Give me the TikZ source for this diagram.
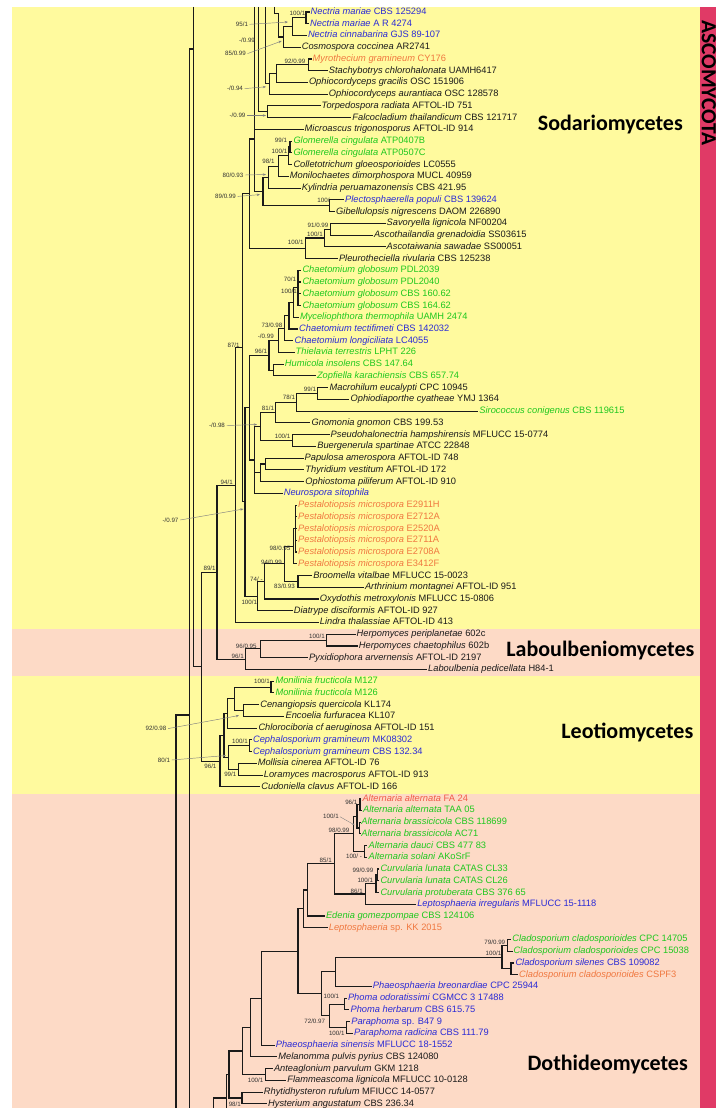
\documentclass[tikz,border=0pt]{standalone}
\usepackage{fontspec}
\setmainfont{Liberation Sans}
\newfontfamily\clsfont{Carlito}
\usetikzlibrary{arrows.meta}
\definecolor{bgy}{HTML}{FFFA9E}
\definecolor{bgp}{HTML}{FDDAC6}
\definecolor{stripc}{HTML}{E03A66}
\definecolor{tb}{HTML}{2B2BD6}
\definecolor{tg}{HTML}{1EC81E}
\definecolor{to}{HTML}{F07840}
\definecolor{tr}{HTML}{F05A48}
\definecolor{tk}{HTML}{1A1A1A}
\definecolor{arrc}{HTML}{808080}
\definecolor{supc}{HTML}{333333}
\newcommand\leafnode[5]{\node[leaf,text=#3] (L#1) at (#2,{12+(#1-1)*11.74}) {\textit{#4} #5};}
\newcommand\tedge[2]{\draw[br] (#1) |- (#2);}
\begin{document}
\begin{tikzpicture}[x=1pt,y=-1pt,
  leaf/.style={anchor=west,inner xsep=1pt,inner ysep=0pt,font=\fontsize{9.3}{11}\selectfont,text height=6.8pt,text depth=1.8pt},
  br/.style={draw=tk,line width=1.1pt},
  sup/.style={inner sep=0pt,font=\fontsize{6.2}{7}\selectfont,text=supc,text height=4.4pt,text depth=0pt},
  arr/.style={draw=arrc,line width=0.45pt,-{Stealth[length=3.2pt,width=2.4pt]}},
  cls/.style={anchor=base east,inner sep=0pt,font=\clsfont\bfseries\fontsize{22}{22}\selectfont,text=black}]
\useasboundingbox (0,0) rectangle (716,1108);
\fill[white] (0,0) rectangle (716,1108);
\fill[bgy] (12,7) rectangle (700,629);
\fill[bgp] (12,629) rectangle (700,676);
\fill[bgy] (12,676) rectangle (700,794);
\fill[bgp] (12,794) rectangle (700,1108);
\fill[stripc] (700,7) rectangle (716,1108);
\node[anchor=base west,rotate=-90,inner sep=0pt,font=\clsfont\bfseries\fontsize{21.5}{22}\selectfont,text=black] (asco) at (701.8,20) {ASCOMYCOTA};
\node[cls] (c1) at (683,130.5) {Sodariomycetes};
\node[cls] (c2) at (694.5,656) {Laboulbeniomycetes};
\node[cls] (c3) at (693.5,738.5) {Leotiomycetes};
\node[cls] (c4) at (688,1070) {Dothideomycetes};
% leaves
\leafnode{1}{309.5}{tb}{Nectria mariae}{CBS 125294}
\leafnode{2}{309}{tb}{Nectria mariae}{A R 4274}
\leafnode{3}{306.8}{tb}{Nectria cinnabarina}{GJS 89-107}
\leafnode{4}{300.6}{tk}{Cosmospora coccinea}{AR2741}
\leafnode{5}{311.5}{to}{Myrothecium gramineum}{CY176}
\leafnode{6}{327.7}{tk}{Stachybotrys chlorohalonata}{UAMH6417}
\leafnode{7}{307.8}{tk}{Ophiocordyceps gracilis}{OSC 151906}
\leafnode{8}{327.7}{tk}{Ophiocordyceps aurantiaca}{OSC 128578}
\leafnode{9}{320.5}{tk}{Torpedospora radiata}{AFTOL-ID 751}
\leafnode{10}{351.2}{tk}{Falcocladium thailandicum}{CBS 121717}
\leafnode{11}{303.5}{tk}{Microascus trigonosporus}{AFTOL-ID 914}
\leafnode{12}{292.3}{tg}{Glomerella cingulata}{ATP0407B}
\leafnode{13}{292.3}{tg}{Glomerella cingulata}{ATP0507C}
\leafnode{14}{292.3}{tk}{Colletotrichum gloeosporioides}{LC0555}
\leafnode{15}{288.7}{tk}{Monilochaetes dimorphospora}{MUCL 40959}
\leafnode{16}{300.6}{tk}{Kylindria peruamazonensis}{CBS 421.95}
\leafnode{17}{344}{tb}{Plectosphaerella populi}{CBS 139624}
\leafnode{18}{335}{tk}{Gibellulopsis nigrescens}{DAOM 226890}
\leafnode{19}{385.5}{tk}{Savoryella lignicola}{NF00204}
\leafnode{20}{372.8}{tk}{Ascothailandia grenadoidia}{SS03615}
\leafnode{21}{385.5}{tk}{Ascotaiwania sawadae}{SS00051}
\leafnode{22}{337.8}{tk}{Pleurotheciella rivularia}{CBS 125238}
\leafnode{23}{301.3}{tg}{Chaetomium globosum}{PDL2039}
\leafnode{24}{301.3}{tg}{Chaetomium globosum}{PDL2040}
\leafnode{25}{301.3}{tg}{Chaetomium globosum}{CBS 160.62}
\leafnode{26}{301.3}{tg}{Chaetomium globosum}{CBS 164.62}
\leafnode{27}{298.8}{tg}{Myceliophthora thermophila}{UAMH 2474}
\leafnode{28}{298}{tb}{Chaetomium tectifimeti}{CBS 142032}
\leafnode{29}{293.4}{tb}{Chaetomium longiciliata}{LC4055}
\leafnode{30}{294.5}{tg}{Thielavia terrestris}{LPHT 226}
\leafnode{31}{283.7}{tg}{Humicola insolens}{CBS 147.64}
\leafnode{32}{315.8}{tg}{Zopfiella karachiensis}{CBS 657.74}
\leafnode{33}{328.4}{tk}{Macrohilum eucalypti}{CPC 10945}
\leafnode{34}{349.4}{tk}{Ophiodiaporthe cyatheae}{YMJ 1364}
\leafnode{35}{478.2}{tg}{Sirococcus conigenus}{CBS 119615}
\leafnode{36}{310.4}{tk}{Gnomonia gnomon}{CBS 199.53}
\leafnode{37}{329.5}{tk}{Pseudohalonectria hampshirensis}{MFLUCC 15-0774}
\leafnode{38}{316.1}{tk}{Buergenerula spartinae}{ATCC 22848}
\leafnode{39}{303.5}{tk}{Papulosa amerospora}{AFTOL-ID 748}
\leafnode{40}{304.2}{tk}{Thyridium vestitum}{AFTOL-ID 172}
\leafnode{41}{304.2}{tk}{Ophiostoma piliferum}{AFTOL-ID 910}
\leafnode{42}{282.6}{tb}{Neurospora sitophila}{}
\leafnode{43}{297}{to}{Pestalotiopsis microspora}{E2911H}
\leafnode{44}{297}{to}{Pestalotiopsis microspora}{E2712A}
\leafnode{45}{297}{to}{Pestalotiopsis microspora}{E2520A}
\leafnode{46}{297}{to}{Pestalotiopsis microspora}{E2711A}
\leafnode{47}{297}{to}{Pestalotiopsis microspora}{E2708A}
\leafnode{48}{297}{to}{Pestalotiopsis microspora}{E3412F}
\leafnode{49}{312.2}{tk}{Broomella vitalbae}{MFLUCC 15-0023}
\leafnode{50}{363.8}{tk}{Arthrinium montagnei}{AFTOL-ID 951}
\leafnode{51}{318.7}{tk}{Oxydothis metroxylonis}{MFLUCC 15-0806}
\leafnode{52}{292.7}{tk}{Diatrype disciformis}{AFTOL-ID 927}
\leafnode{53}{318.7}{tk}{Lindra thalassiae}{AFTOL-ID 413}
\leafnode{54}{355.5}{tk}{Herpomyces periplanetae}{602c}
\leafnode{55}{357.7}{tk}{Herpomyces chaetophilus}{602b}
\leafnode{56}{307.8}{tk}{Pyxidiophora arvernensis}{AFTOL-ID 2197}
\leafnode{57}{427}{tk}{Laboulbenia pedicellata}{H84-1}
\leafnode{58}{274.3}{tg}{Monilinia fructicola}{M127}
\leafnode{59}{274.3}{tg}{Monilinia fructicola}{M126}
\leafnode{60}{259.1}{tk}{Cenangiopsis quercicola}{KL174}
\leafnode{61}{284.4}{tk}{Encoelia furfuracea}{KL107}
\leafnode{62}{257.3}{tk}{Chlorociboria cf aeruginosa}{AFTOL-ID 151}
\leafnode{63}{251.9}{tb}{Cephalosporium gramineum}{MK08302}
\leafnode{64}{251.9}{tb}{Cephalosporium gramineum}{CBS 132.34}
\leafnode{65}{256.6}{tk}{Mollisia cinerea}{AFTOL-ID 76}
\leafnode{66}{262.7}{tk}{Loramyces macrosporus}{AFTOL-ID 913}
\leafnode{67}{260.2}{tk}{Cudoniella clavus}{AFTOL-ID 166}
\leafnode{68}{361.3}{tr}{Alternaria alternata}{FA 24}
\leafnode{69}{362}{tg}{Alternaria alternata}{TAA 05}
\leafnode{70}{360.2}{tg}{Alternaria brassicicola}{CBS 118699}
\leafnode{71}{360.2}{tg}{Alternaria brassicicola}{AC71}
\leafnode{72}{367.4}{tg}{Alternaria dauci}{CBS 477 83}
\leafnode{73}{367.4}{tg}{Alternaria solani}{AKoSrF}
\leafnode{74}{379.3}{tg}{Curvularia lunata}{CATAS CL33}
\leafnode{75}{379.3}{tg}{Curvularia lunata}{CATAS CL26}
\leafnode{76}{379.3}{tg}{Curvularia protuberata}{CBS 376 65}
\leafnode{77}{416.1}{tb}{Leptosphaeria irregularis}{MFLUCC 15-1118}
\leafnode{78}{324.8}{tg}{Edenia gomezpompae}{CBS 124106}
\leafnode{79}{327.7}{to}{Leptosphaeria}{sp. KK 2015}
\leafnode{80}{511.1}{tg}{Cladosporium cladosporioides}{CPC 14705}
\leafnode{81}{512.5}{tg}{Cladosporium cladosporioides}{CPC 15038}
\leafnode{82}{514.3}{tb}{Cladosporium silenes}{CBS 109082}
\leafnode{83}{518}{to}{Cladosporium cladosporioides}{CSPF3}
\leafnode{84}{371.7}{tb}{Phaeosphaeria breonardiae}{CPC 25944}
\leafnode{85}{346.8}{tb}{Phoma odoratissimi}{CGMCC 3 17488}
\leafnode{86}{349.4}{tb}{Phoma herbarum}{CBS 615.75}
\leafnode{87}{350.1}{tb}{Paraphoma}{sp. B47 9}
\leafnode{88}{353}{tb}{Paraphoma radicina}{CBS 111.79}
\leafnode{89}{274.6}{tb}{Phaeosphaeria sinensis}{MFLUCC 18-1552}
\leafnode{90}{277.2}{tk}{Melanomma pulvis pyrius}{CBS 124080}
\leafnode{91}{272.8}{tk}{Anteaglonium parvulum}{GKM 1218}
\leafnode{92}{286.2}{tk}{Flammeascoma lignicola}{MFLUCC 10-0128}
\leafnode{93}{262.7}{tk}{Rhytidhysteron rufulum}{MFIUCC 14-0577}
\leafnode{94}{267}{tk}{Hysterium angustatum}{CBS 236.34}
% internal nodes: Sordariomycetes
\coordinate (n12) at (306,17.9);
\coordinate (n13) at (292.6,26.7);
\coordinate (T1) at (283.6,37.0);
\coordinate (u1) at (274.5,7);
\coordinate (u2) at (278.2,13.3);
\coordinate (n56) at (308.8,64.85);
\coordinate (n57) at (276.4,73.6);
\coordinate (n58) at (269.1,83.9);
\coordinate (u3) at (265.5,7);
\coordinate (n910) at (267.3,111.8);
\coordinate (u4) at (258.3,7);
\coordinate (u5) at (254.2,7);
\coordinate (R) at (254.2,139);
\coordinate (n1213) at (290,147.0);
\coordinate (n1214) at (288.4,155.8);
\coordinate (n98) at (278.2,166.1);
\coordinate (n80) at (268.4,177.1);
\coordinate (n1718) at (329.4,205.7);
\coordinate (n89) at (263,191.4);
\coordinate (n1920) at (330.5,229.2);
\coordinate (n1921) at (324.4,238.0);
\coordinate (n1922) at (305.2,248.3);
\coordinate (P) at (249.2,193.65);
\coordinate (cg) at (298,287.9);
\coordinate (n27) at (293.3,302.6);
\coordinate (n73) at (289,315.8);
\coordinate (nm99) at (284.7,328.3);
\coordinate (nth) at (278.2,340.4);
\coordinate (n3132) at (273.8,370.1);
\coordinate (n96) at (269,355.2);
\coordinate (n3334) at (317.9,393.5);
\coordinate (n78) at (296.2,402.4);
\coordinate (n81) at (275.6,412.6);
\coordinate (n3738) at (292.6,440.5);
\coordinate (nm98) at (260.1,426.6);
\coordinate (n3940) at (265.5,464.0);
\coordinate (n3941) at (260.1,472.8);
\coordinate (ndia) at (254.7,460.0);
\coordinate (S2) at (249.3,407.6);
\coordinate (p1) at (295.2,528.6);
\coordinate (p2) at (293.5,546.2);
\coordinate (n83) at (298,581.4);
\coordinate (n94) at (284.3,563.8);
\coordinate (n74) at (264.8,581.4);
\coordinate (n100x) at (257.6,596.05);
\coordinate (S3) at (245,501.8);
\coordinate (n87) at (242.3,347.7);
\coordinate (S4) at (235.7,485.1);
\coordinate (nh) at (326.2,640.1);
\coordinate (n9695) at (260.1,648.9);
\coordinate (nlab) at (245.7,659.2);
\coordinate (N217) at (217,572.2);
\coordinate (nmo) at (271,687.05);
\coordinate (nce) at (243.1,710.55);
\coordinate (nlc) at (234.8,698.8);
\coordinate (Leo1) at (227.6,713.45);
\coordinate (nceph) at (249.3,745.75);
\coordinate (n99) at (238.4,769.25);
\coordinate (Leo2) at (228.7,757.5);
\coordinate (Leo3) at (224,735.5);
\coordinate (Leo) at (220,761.15);
\coordinate (N89) at (201.7,666.7);
\coordinate (aTop) at (193.3,7);
\coordinate (A) at (193.3,49);
\coordinate (B) at (189.3,715);
\coordinate (bBot) at (189.3,1108);
\coordinate (C) at (176,1108);
% Dothideomycetes
\coordinate (g1a) at (360,804.45);
\coordinate (g1b) at (359.5,827.95);
\coordinate (g1) at (357,816.2);
\coordinate (a2) at (364.8,851.4);
\coordinate (Alt) at (353.2,833.8);
\coordinate (cu1) at (377.5,874.9);
\coordinate (cu2) at (376,883.7);
\coordinate (n86) at (365.5,893.95);
\coordinate (n85) at (334.1,863.9);
\coordinate (ned) at (307.8,889.95);
\coordinate (nls) at (303.4,908.8);
\coordinate (cl1) at (507.4,945.35);
\coordinate (cl2) at (511,968.8);
\coordinate (cl) at (502,957.1);
\coordinate (pb) at (335.9,971.75);
\coordinate (ph) at (344.2,1004.05);
\coordinate (pa) at (346.8,1027.5);
\coordinate (n72) at (329.4,1015.8);
\coordinate (n321) at (321.5,993.8);
\coordinate (D1) at (298,951.3);
\coordinate (D2) at (261.5,998.2);
\coordinate (D3) at (250.5,1027.55);
\coordinate (an) at (265.5,1074.45);
\coordinate (D4) at (242.5,1051);
\coordinate (rh) at (242,1097.95);
\coordinate (D5) at (229,1074.5);
\coordinate (D6) at (226.5,1108);
\coordinate (D7) at (213.5,1108);
\coordinate (D7b) at (226.5,1098);
% edges
\tedge{n12}{L1.west} \tedge{n12}{L2.west}
\tedge{n13}{n12} \tedge{n13}{L3.west}
\tedge{T1}{n13} \tedge{T1}{L4.west}
\draw[br] (u1) |- (u2) |- (T1);
\tedge{n56}{L5.west} \tedge{n56}{L6.west}
\tedge{n57}{n56} \tedge{n57}{L7.west}
\tedge{n58}{n57} \tedge{n58}{L8.west}
\tedge{u3}{n58}
\tedge{n910}{L9.west} \tedge{n910}{L10.west}
\tedge{u4}{n910}
\draw[br] (u5) -- (R);
\tedge{R}{L11.west} \tedge{R}{n89}
\tedge{n1213}{L12.west} \tedge{n1213}{L13.west}
\tedge{n1214}{n1213} \tedge{n1214}{L14.west}
\tedge{n98}{n1214} \tedge{n98}{L15.west}
\tedge{n80}{n98} \tedge{n80}{L16.west}
\tedge{n1718}{L17.west} \tedge{n1718}{L18.west}
\tedge{n89}{n80} \tedge{n89}{n1718}
\tedge{n1920}{L19.west} \tedge{n1920}{L20.west}
\tedge{n1921}{n1920} \tedge{n1921}{L21.west}
\tedge{n1922}{n1921} \tedge{n1922}{L22.west}
\tedge{P}{R} \tedge{P}{n1922}
\tedge{cg}{L23.west} \tedge{cg}{L24.west} \tedge{cg}{L25.west} \tedge{cg}{L26.west}
\tedge{n27}{cg} \tedge{n27}{L27.west}
\tedge{n73}{n27} \tedge{n73}{L28.west}
\tedge{nm99}{n73} \tedge{nm99}{L29.west}
\tedge{nth}{nm99} \tedge{nth}{L30.west}
\tedge{n3132}{L31.west} \tedge{n3132}{L32.west}
\tedge{n96}{nth} \tedge{n96}{n3132}
\tedge{n3334}{L33.west} \tedge{n3334}{L34.west}
\tedge{n78}{n3334} \tedge{n78}{L35.west}
\tedge{n81}{n78} \tedge{n81}{L36.west}
\tedge{n3738}{L37.west} \tedge{n3738}{L38.west}
\tedge{nm98}{n81} \tedge{nm98}{n3738}
\tedge{n3940}{L39.west} \tedge{n3940}{L40.west}
\tedge{n3941}{n3940} \tedge{n3941}{L41.west}
\tedge{ndia}{nm98} \tedge{ndia}{n3941} \tedge{ndia}{L42.west}
\tedge{S2}{n96} \tedge{S2}{ndia}
\tedge{p1}{L43.west} \tedge{p1}{L44.west} \tedge{p1}{L45.west} \tedge{p1}{L46.west} \tedge{p1}{L47.west}
\tedge{p2}{p1} \tedge{p2}{L48.west}
\tedge{n83}{L49.west} \tedge{n83}{L50.west}
\tedge{n94}{p2} \tedge{n94}{n83}
\tedge{n74}{n94} \tedge{n74}{L51.west}
\tedge{n100x}{n74} \tedge{n100x}{L52.west}
\tedge{S3}{S2} \tedge{S3}{n100x}
\tedge{n87}{P} \tedge{n87}{S3}
\tedge{S4}{n87} \tedge{S4}{L53.west}
\tedge{nh}{L54.west} \tedge{nh}{L55.west}
\tedge{n9695}{nh} \tedge{n9695}{L56.west}
\tedge{nlab}{n9695} \tedge{nlab}{L57.west}
\tedge{N217}{S4} \tedge{N217}{nlab}
\tedge{nmo}{L58.west} \tedge{nmo}{L59.west}
\tedge{nce}{L60.west} \tedge{nce}{L61.west}
\tedge{nlc}{nmo} \tedge{nlc}{nce}
\tedge{Leo1}{nlc} \tedge{Leo1}{L62.west}
\tedge{nceph}{L63.west} \tedge{nceph}{L64.west}
\tedge{n99}{L65.west} \tedge{n99}{L66.west}
\tedge{Leo2}{nceph} \tedge{Leo2}{n99}
\tedge{Leo3}{Leo1} \tedge{Leo3}{Leo2}
\tedge{Leo}{Leo3} \tedge{Leo}{L67.west}
\tedge{N89}{N217} \tedge{N89}{Leo}
\draw[br] (aTop) -- (A);
\tedge{A}{N89}
\tedge{B}{A}
\draw[br] (B) -- (bBot);
\tedge{C}{B}
\tedge{g1a}{L68.west} \tedge{g1a}{L69.west}
\tedge{g1b}{L70.west} \tedge{g1b}{L71.west}
\tedge{g1}{g1a} \tedge{g1}{g1b}
\tedge{a2}{L72.west} \tedge{a2}{L73.west}
\tedge{Alt}{g1} \tedge{Alt}{a2}
\tedge{cu1}{L74.west} \tedge{cu1}{L75.west}
\tedge{cu2}{cu1} \tedge{cu2}{L76.west}
\tedge{n86}{cu2} \tedge{n86}{L77.west}
\tedge{n85}{Alt} \tedge{n85}{n86}
\tedge{ned}{n85} \tedge{ned}{L78.west}
\tedge{nls}{ned} \tedge{nls}{L79.west}
\tedge{cl1}{L80.west} \tedge{cl1}{L81.west}
\tedge{cl2}{L82.west} \tedge{cl2}{L83.west}
\tedge{cl}{cl1} \tedge{cl}{cl2}
\tedge{pb}{cl} \tedge{pb}{L84.west}
\tedge{ph}{L85.west} \tedge{ph}{L86.west}
\tedge{pa}{L87.west} \tedge{pa}{L88.west}
\tedge{n72}{ph} \tedge{n72}{pa}
\tedge{n321}{pb} \tedge{n321}{n72}
\tedge{D1}{nls} \tedge{D1}{n321}
\tedge{D2}{D1} \tedge{D2}{L89.west}
\tedge{D3}{D2} \tedge{D3}{L90.west}
\tedge{an}{L91.west} \tedge{an}{L92.west}
\tedge{D4}{D3} \tedge{D4}{an}
\tedge{rh}{L93.west} \tedge{rh}{L94.west}
\tedge{D5}{D4} \tedge{D5}{rh}
\tedge{D6}{D5}
\tedge{D7}{D7b}
% support values
\node[sup] (s1) at (297.5,13.5) {100/1};
\node[sup] (s2) at (247,40) {-/0.99};
\node[sup] (s3) at (295,61) {92/0.99};
\node[sup] (s4) at (281,140) {99/1};
\node[sup] (s5) at (279.5,151) {100/1};
\node[sup] (s6) at (268.5,161.7) {98/1};
\node[sup] (s7) at (323.5,200.7) {100/};
\node[sup] (s8) at (318,225) {91/0.99};
\node[sup] (s9) at (315,234.3) {100/1};
\node[sup] (s10) at (295.7,242.3) {100/1};
\node[sup] (s11) at (290,279.3) {70/1};
\node[sup] (s12) at (289,291.7) {100/1};
\node[sup] (s13) at (272,325) {73/0.98};
\node[sup] (s14) at (265.8,336.7) {-/0.99};
\node[sup] (s15) at (261,351.7) {96/1};
\node[sup] (s16) at (233.6,345) {87/1};
\node[sup] (s17) at (310,389) {99/1};
\node[sup] (s18) at (289,397.7) {78/1};
\node[sup] (s19) at (268,408.3) {81/1};
\node[sup] (s20) at (282.6,436) {100/1};
\node[sup] (s21) at (226.7,482.3) {94/1};
\node[sup] (s22) at (280,548.3) {98/0.95};
\node[sup] (s23) at (271.4,562.7) {94/0.99};
\node[sup] (s24) at (209.6,568.3) {89/1};
\node[sup] (s25) at (256.4,579.3) {74/ -};
\node[sup] (s26) at (284.5,586) {83/0.93};
\node[sup] (s27) at (249.3,602.7) {100/1};
\node[sup] (s28) at (317,636.7) {100/1};
\node[sup] (s29) at (246.3,646) {96/0.95};
\node[sup] (s30) at (237.7,656.7) {96/1};
\node[sup] (s31) at (262,681.7) {100/1};
\node[sup] (s32) at (240,741.7) {100/1};
\node[sup] (s33) at (210.4,766.7) {96/1};
\node[sup] (s34) at (230.3,774) {99/1};
\node[sup] (s35) at (351.3,802.3) {96/1};
\node[sup] (s36) at (339,830.7) {98/0.99};
\node[sup] (s37) at (354,856.7) {100/ -};
\node[sup] (s38) at (325.7,860.7) {85/1};
\node[sup] (s39) at (363,870.7) {99/0.99};
\node[sup] (s40) at (365.3,880.7) {100/1};
\node[sup] (s41) at (356.7,891) {86/1};
\node[sup] (s42) at (494.8,942.7) {79/0.99};
\node[sup] (s43) at (493.5,953.3) {100/1};
\node[sup] (s44) at (331.4,996.7) {100/1};
\node[sup] (s45) at (314.7,1021.7) {72/0.97};
\node[sup] (s46) at (336.8,1033.7) {100/1};
\node[sup] (s47) at (255.6,1080) {100/1};
\node[sup] (s48) at (234.8,1104) {98/1};
% support values with pointers
\node[sup] (a1) at (242,24.3) {95/1};
\node[sup] (a2) at (235.5,53.6) {85/0.99};
\node[sup] (a3) at (235,88.6) {-/0.94};
\node[sup] (a4) at (237.5,115.5) {-/0.99};
\node[sup] (a5) at (233,175) {80/0.93};
\node[sup] (a6) at (225.5,196.4) {89/0.99};
\node[sup] (a7) at (217,425.5) {-/0.98};
\node[sup] (a8) at (170.5,520) {-/0.97};
\node[sup] (a9) at (156,728.6) {92/0.98};
\node[sup] (a10) at (164,760) {80/1};
\node[sup] (a11) at (331,816.7) {100/1};
\coordinate (t1) at (288,22);
\coordinate (t2) at (281.7,41);
\coordinate (t3) at (266,86.8);
\coordinate (t4) at (266,115.5);
\coordinate (t5) at (266,174.5);
\coordinate (t6) at (260,194.6);
\coordinate (t7) at (257,424.5);
\coordinate (t8) at (243.5,509);
\coordinate (t9) at (239,715.5);
\coordinate (t10) at (226,755.5);
\coordinate (t11) at (354.5,825);
\foreach \k in {1,...,10} {\draw[arr] ([xshift=1.5pt]a\k.east) -- (t\k);}
\draw[draw=arrc,line width=0.35pt,-{Stealth[length=2.4pt,width=1.8pt]}] ([xshift=1pt]a11.east) -- (t11);
\end{tikzpicture}
\end{document}
